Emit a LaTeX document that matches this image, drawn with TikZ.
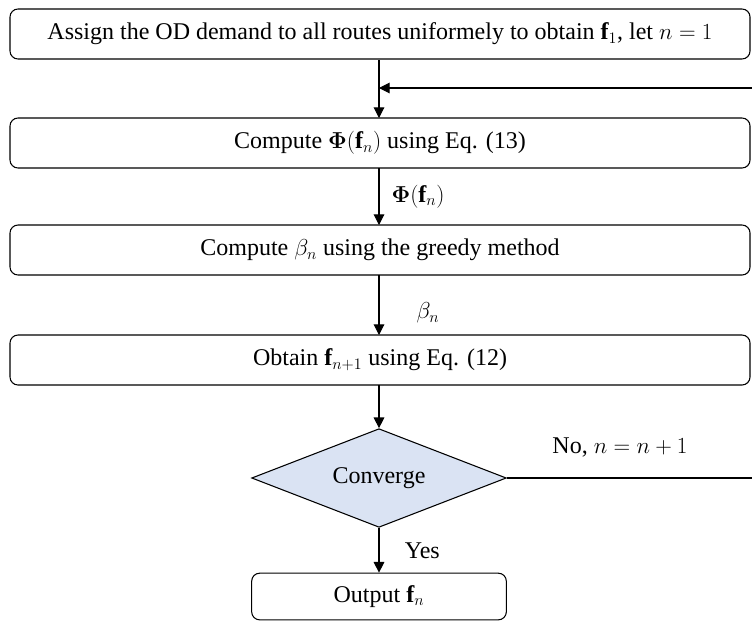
\documentclass[tikz,border=0pt]{standalone}
\usepackage{amsmath,bm}
\usepackage{fontspec}
\setmainfont{Liberation Serif}
\usetikzlibrary{shapes.geometric,arrows.meta}
\definecolor{dfill}{HTML}{DAE3F3}
\begin{document}
\begin{tikzpicture}[x=0.75pt,y=-0.75pt,
  every node/.style={font=\fontsize{18}{21}\selectfont},
  box/.style={draw,rounded corners=6pt,line width=0.8pt,minimum width=555pt,minimum height=37.5pt,inner sep=0pt},
  dec/.style={draw,diamond,aspect=2.58,fill=dfill,line width=0.8pt,minimum width=191pt,minimum height=74pt,inner sep=0pt},
  lab/.style={inner sep=1pt},
  arr/.style={line width=0.8pt,-{Triangle[length=8pt,width=8pt]}},
  ln/.style={line width=0.8pt}]
\useasboundingbox (0,0) rectangle (752,625);
\clip (0,0) rectangle (752,625);
\node[box] (b1) at (380,34) {Assign the OD demand to all routes uniformely to obtain $\mathbf{f}_1$, let $n=1$};
\node[box] (b2) at (380,143) {Compute $\bm{\Phi}(\mathbf{f}_n)$ using Eq. (13)};
\node[box] (b3) at (380,250) {Compute $\beta_n$ using the greedy method};
\node[box] (b4) at (380,360) {Obtain $\mathbf{f}_{n+1}$ using Eq. (12)};
\node[dec] (d) at (379,478) {Converge};
\node[box,minimum width=191pt,minimum height=35pt] (b5) at (379,596.5) {Output $\mathbf{f}_n$};
\coordinate (j) at (379,88);
\coordinate (r1) at (754,478);
\coordinate (r2) at (754,88);
\draw[arr] (379,60) -- (379,118);
\draw[arr] (379,168) -- (379,225) node[lab,midway,right=8pt] {$\bm{\Phi}(\mathbf{f}_n)$};
\draw[arr] (379,275) -- (379,335);
\node[lab] (lb) at (428,313) {$\beta_n$};
\draw[arr] (379,385) -- (d.north);
\draw[arr] (d.south) -- (b5.north) node[lab,midway,right=18pt] {Yes};
\draw[ln] (d.east) -- (r1) -- (r2);
\draw[arr] (r2) -- (j);
\node[lab] (no) at (620,447) {No, $n=n+1$};
\end{tikzpicture}
\end{document}
